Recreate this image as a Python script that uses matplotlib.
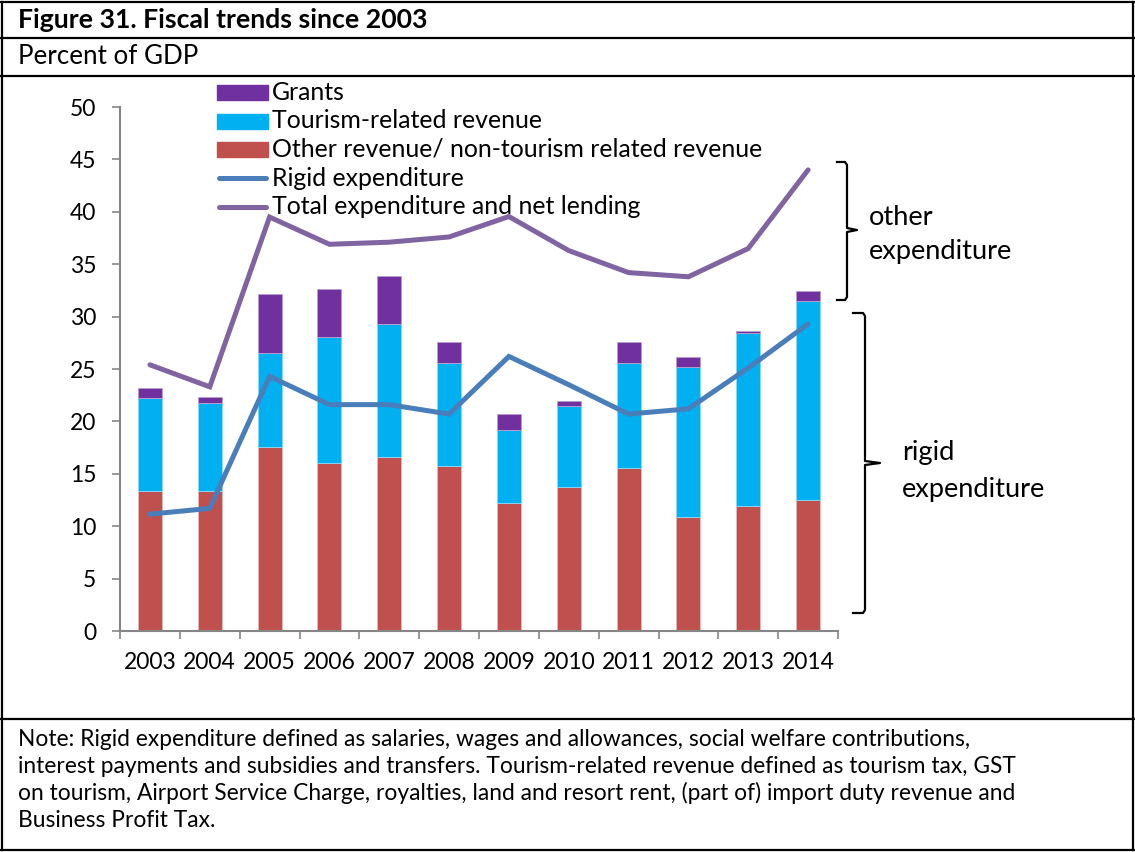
import matplotlib.pyplot as plt
import numpy as np
from matplotlib.lines import Line2D
from matplotlib.patches import Rectangle

plt.rcParams['font.family'] = ['Lato', 'DejaVu Sans']

years = ['2003', '2004', '2005', '2006', '2007', '2008',
         '2009', '2010', '2011', '2012', '2013', '2014']
other_rev = [13.4, 13.4, 17.6, 16.0, 16.6, 15.7, 12.2, 13.7, 15.6, 10.9, 11.9, 12.5]
tourism_rev = [8.8, 8.4, 8.9, 12.1, 12.7, 9.9, 7.0, 7.8, 10.0, 14.3, 16.5, 19.0]
grants = [0.95, 0.5, 5.7, 4.5, 4.55, 1.95, 1.5, 0.45, 2.0, 0.9, 0.25, 0.95]
rigid_exp = [11.15, 11.7, 24.3, 21.6, 21.6, 20.7, 26.2, 23.5, 20.7, 21.2, 25.1, 29.3]
total_exp = [25.4, 23.3, 39.5, 36.9, 37.1, 37.6, 39.55, 36.3, 34.2, 33.8, 36.5, 44.0]

note_lines = [
    "Note: Rigid expenditure defined as salaries, wages and allowances, social welfare contributions,",
    "interest payments and subsidies and transfers. Tourism-related revenue defined as tourism tax, GST",
    "on tourism, Airport Service Charge, royalties, land and resort rent, (part of) import duty revenue and",
    "Business Profit Tax.",
]

c_red = '#C0504D'
c_cyan = '#00B0F0'
c_grant = '#7030A0'
c_rigid = '#4A7EBB'
c_total = '#8064A2'
c_axis = '#868686'

W, H = 1135, 852


def fx(x):
    return x / W


def fy(y):
    return 1 - y / H


fig = plt.figure(figsize=(W / 100, H / 100), dpi=100)
ax = fig.add_axes([fx(120), fy(631), 718 / W, 524 / H])

x = np.arange(len(years))
bw = 0.4
bottom2 = np.array(other_rev)
bottom3 = bottom2 + np.array(tourism_rev)
ax.bar(x, other_rev, bw, color=c_red, edgecolor='#E6B9B8', linewidth=0.6, zorder=2)
ax.bar(x, tourism_rev, bw, bottom=bottom2, color=c_cyan, edgecolor='#8FD8F5', linewidth=0.6, zorder=2)
ax.bar(x, grants, bw, bottom=bottom3, color=c_grant, edgecolor='#B9A0CF', linewidth=0.6, zorder=2)
ax.plot(x, rigid_exp, color=c_rigid, lw=3.6, solid_capstyle='round', solid_joinstyle='miter', zorder=3)
ax.plot(x, total_exp, color=c_total, lw=3.6, solid_capstyle='round', solid_joinstyle='miter', zorder=3)

ax.set_xlim(-0.5, len(years) - 0.5)
ax.set_ylim(0, 50)
ax.set_yticks(range(0, 51, 5))
ax.set_xticks(x)
ax.set_xticklabels(years)
ax.set_xticks(np.arange(-0.5, len(years)), minor=True)
ax.tick_params(axis='x', which='major', length=0, pad=15, labelsize=16.5)
ax.tick_params(axis='x', which='minor', length=6, width=1.2, color=c_axis, direction='out')
ax.tick_params(axis='y', length=6, width=1.2, color=c_axis, pad=11, labelsize=16.5)
for s in ['top', 'right']:
    ax.spines[s].set_visible(False)
for s in ['left', 'bottom']:
    ax.spines[s].set_color(c_axis)
    ax.spines[s].set_linewidth(1.5)

# legend drawn by hand so it can sit above the plot area
leg_y = [92, 121, 149, 178, 207]
leg_labels = ['Grants', 'Tourism-related revenue', 'Other revenue/ non-tourism related revenue',
              'Rigid expenditure', 'Total expenditure and net lending']
for i, (yy, lab) in enumerate(zip(leg_y, leg_labels)):
    if i < 3:
        col = [c_grant, c_cyan, c_red][i]
        fig.add_artist(Rectangle((fx(217), fy(yy + 7.5)), 51 / W, 15 / H,
                                 transform=fig.transFigure, color=col))
    else:
        col = [c_rigid, c_total][i - 3]
        fig.add_artist(Line2D([fx(219), fx(266)], [fy(yy), fy(yy)], transform=fig.transFigure,
                              color=col, lw=3.6, solid_capstyle='round'))
    fig.text(fx(272), fy(yy), lab, fontsize=17.9, va='center', ha='left')

# brackets on the right
def bracket(x0, xv, xt, ytop, ybot, ytip):
    xs = [x0, xv - 2, xv, xv, xt, xv, xv, xv - 2, x0]
    ys = [ytop, ytop, ytop + 3, ytip - 2, ytip, ytip + 2, ybot - 3, ybot, ybot]
    fig.add_artist(Line2D([fx(v) for v in xs], [fy(v) for v in ys], transform=fig.transFigure,
                          color='black', lw=1.6))


bracket(837, 847, 857, 162, 300, 230)
bracket(853, 865, 880, 313, 613, 463)
fig.text(fx(869), fy(217), 'other', fontsize=19.6, va='center', ha='left')
fig.text(fx(869), fy(252), 'expenditure', fontsize=19.6, va='center', ha='left')
fig.text(fx(902), fy(453), 'rigid', fontsize=19.6, va='center', ha='left')
fig.text(fx(902), fy(490), 'expenditure', fontsize=19.6, va='center', ha='left')

# frame and titles
fig.text(fx(18), fy(20), 'Figure 31. Fiscal trends since 2003', fontsize=19.2,
         fontweight='bold', va='center', ha='left')
fig.text(fx(18), fy(57), 'Percent of GDP', fontsize=18.7, va='center', ha='left')
for i, line in enumerate(note_lines):
    fig.text(fx(18), fy(740 + 26.7 * i), line, fontsize=16.4, va='center', ha='left')

for yy in [2, 38, 76, 719, 850]:
    fig.add_artist(Line2D([fx(1), fx(1134)], [fy(yy), fy(yy)], transform=fig.transFigure,
                          color='black', lw=1.6))
for xx in [2, 1133]:
    fig.add_artist(Line2D([fx(xx), fx(xx)], [fy(2), fy(850)], transform=fig.transFigure,
                          color='black', lw=1.6))

fig.savefig('out.png', dpi=100)
